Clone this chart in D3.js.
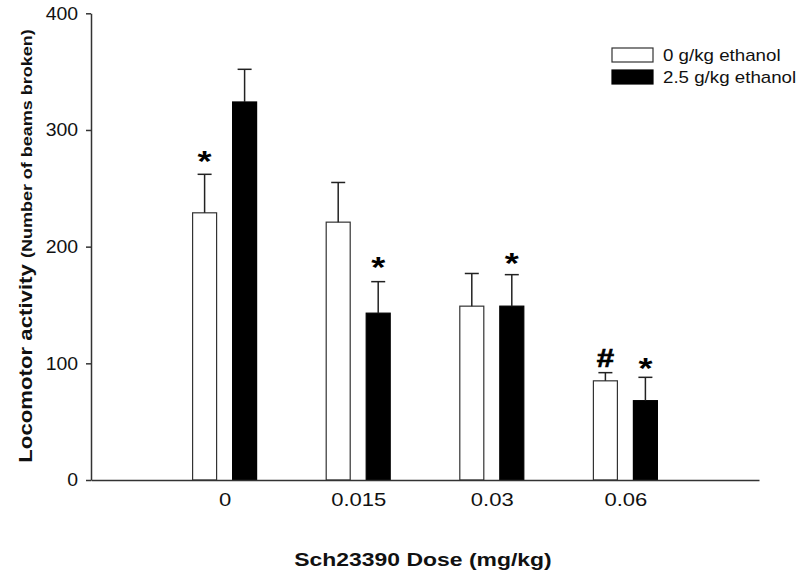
<!DOCTYPE html>
<html>
<head>
<meta charset="utf-8">
<script src="https://cdn.jsdelivr.net/npm/d3@7"></script>
<style>
  body { margin: 0; background: #fff; }
  svg { display: block; font-family: Arial, "Liberation Sans", sans-serif; }
</style>
</head>
<body>
<svg width="800" height="576"></svg>
<script>
// Sch23390 dose x ethanol, locomotor activity

var doses = ['0', '0.015', '0.03', '0.06']
var series = ['0 g/kg ethanol', '2.5 g/kg ethanol']
var meanWater = [229, 221, 149, 85]
var semWater = [33, 34, 28, 7]
var meanEthanol = [324, 143, 149, 68]
var semEthanol = [28, 27, 27, 20]
// significance marks: [dose index, series index, symbol, y value where the mark sits]
var marks = [[0, 0, '*', 280], [1, 1, '*', 189], [2, 1, '*', 193], [3, 0, '#', 105], [3, 1, '*', 103]]
var yTicks = [0, 100, 200, 300, 400]

var svg = d3.select('svg')
var ink = '#333'
// the original figure's lettering is stretched sideways
var wide = 'scale(1.24,1)'

var x = d3.scaleLinear().domain([-1, 4]).range([91, 759])
var inner = d3.scaleBand().domain([0, 1]).range([-32, 32]).paddingInner(0.4).paddingOuter(0)
var y = d3.scaleLinear().domain([0, 400]).range([480, 13.3])

var rows = []
doses.forEach(function(d, i) {
    rows.push({ i: i, s: 0, mean: meanWater[i], sem: semWater[i] })
    rows.push({ i: i, s: 1, mean: meanEthanol[i], sem: semEthanol[i] })
})

function mid(d) { return x(d.i) + inner(d.s) + inner.bandwidth() / 2 }

// bars
svg.append('g').selectAll('rect')
    .data(rows)
    .join('rect')
    .attr('x', d => x(d.i) + inner(d.s))
    .attr('y', d => y(d.mean))
    .attr('width', inner.bandwidth())
    .attr('height', d => y(0) - y(d.mean))
    .attr('fill', d => d.s ? '#000' : '#fff')
    .attr('stroke', d => d.s ? '#000' : ink)
    .attr('stroke-width', 1.2)

// error bars (upper only)
var err = svg.append('g').attr('stroke', '#222').attr('stroke-width', 1.5)
err.selectAll('.stem')
    .data(rows)
    .join('line')
    .attr('class', 'stem')
    .attr('x1', mid)
    .attr('x2', mid)
    .attr('y1', d => y(d.mean))
    .attr('y2', d => y(d.mean + d.sem))
err.selectAll('.cap')
    .data(rows)
    .join('line')
    .attr('class', 'cap')
    .attr('x1', d => mid(d) - 7)
    .attr('x2', d => mid(d) + 7)
    .attr('y1', d => y(d.mean + d.sem))
    .attr('y2', d => y(d.mean + d.sem))

// significance symbols
svg.append('g').selectAll('text')
    .data(marks)
    .join('text')
    .attr('transform', d => 'translate(' + mid({ i: d[0], s: d[1] }) + ',' + y(d[3]) + ') scale(1.2,1)')
    .attr('text-anchor', 'middle')
    .attr('font-weight', 'bold')
    .attr('font-size', d => d[2] == '*' ? 30 : 26)
    .attr('stroke', d => d[2] == '#' ? '#000' : 'none')
    .attr('stroke-width', 0.6)
    .attr('dy', d => d[2] == '*' ? '0.6em' : '0.36em')
    .text(d => d[2])

// axes
var yAxis = svg.append('g')
    .attr('transform', 'translate(91,0)')
    .call(d3.axisLeft(y).tickValues(yTicks).tickSize(5).tickSizeOuter(0).tickPadding(7))
yAxis.select('.domain').attr('stroke', ink).attr('stroke-width', 1.5)
yAxis.selectAll('.tick line').attr('stroke', ink).attr('stroke-width', 1.5)
yAxis.selectAll('.tick text')
    .attr('font-size', 18)
    .attr('fill', '#111')
    .attr('transform', 'scale(1.08,1)')
    .attr('font-family', 'Arial, "Liberation Sans", sans-serif')

var xAxis = svg.append('g')
    .attr('transform', 'translate(0,480)')
    .call(d3.axisBottom(x).tickValues([0, 1, 2, 3]).tickFormat(i => doses[i]).tickSize(0).tickSizeOuter(0).tickPadding(14))
xAxis.select('.domain').attr('stroke', ink).attr('stroke-width', 1.5)
xAxis.selectAll('.tick text')
    .attr('font-size', 17.5)
    .attr('fill', '#111')
    .attr('transform', 'scale(1.26,1)')
    .attr('font-family', 'Arial, "Liberation Sans", sans-serif')

// axis titles
svg.append('text')
    .attr('transform', 'translate(423,566) ' + wide)
    .attr('text-anchor', 'middle')
    .attr('font-weight', 'bold')
    .attr('font-size', 18.5)
    .attr('fill', '#111')
    .text('Sch23390 Dose (mg/kg)')

var yTitle = svg.append('text')
    .attr('transform', 'translate(32,246) rotate(-90) scale(1.2,1)')
    .attr('text-anchor', 'middle')
    .attr('font-weight', 'bold')
    .attr('fill', '#111')
yTitle.append('tspan')
    .attr('font-size', 18.5)
    .text('Locomotor activity ')
yTitle.append('tspan')
    .attr('font-size', 15)
    .text('(Number of beams broken)')

// legend
var legend = svg.append('g').selectAll('g')
    .data(series)
    .join('g')
    .attr('transform', (d, i) => 'translate(612,' + (48 + i * 22) + ')')
legend.append('rect')
    .attr('width', 41)
    .attr('height', 14)
    .attr('fill', (d, i) => i ? '#000' : '#fff')
    .attr('stroke', (d, i) => i ? '#000' : ink)
    .attr('stroke-width', 1.2)
legend.append('text')
    .attr('transform', 'translate(51,13) scale(1.17,1)')
    .attr('font-size', 16)
    .attr('fill', '#111')
    .text(d => d)
</script>
</body>
</html>
